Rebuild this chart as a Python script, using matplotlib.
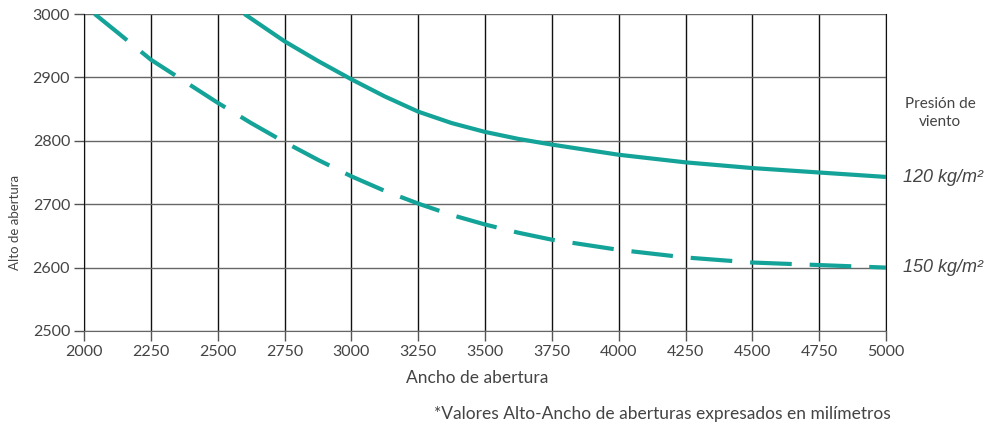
import matplotlib.pyplot as plt

# valores (mm)
ancho_120 = [2600, 2750, 2875, 3000, 3125, 3250, 3375, 3500, 3625, 3750, 4000, 4250, 4500,
             4750, 5000]
alto_120 = [3000, 2957, 2926, 2897, 2870, 2846, 2828, 2814, 2803, 2794, 2778, 2766, 2757,
            2750, 2743]

ancho_150 = [2040, 2125, 2250, 2375, 2500, 2625, 2750, 2875, 3000, 3125, 3250, 3375,
             3500, 3625, 3750, 4000, 4250, 4500, 4750, 5000]
alto_150 = [3000, 2971, 2928, 2894, 2860, 2828, 2798, 2770, 2744, 2721, 2701, 2683,
            2668, 2655, 2644, 2628, 2616, 2608, 2604, 2600]

xticks = [2000, 2250, 2500, 2750, 3000, 3250, 3500, 3750, 4000, 4250, 4500, 4750, 5000]
yticks = [2500, 2600, 2700, 2800, 2900, 3000]
etiquetas = ['120 kg/m²', '150 kg/m²']

verde = '#14a398'
gris = '#444444'

fig = plt.figure(figsize=(10.04, 4.28), dpi=100)
ax = fig.add_axes([84 / 1004, 1 - 331 / 428, 802 / 1004, 317 / 428])

ax.plot(ancho_120, alto_120, color=verde, lw=3, solid_capstyle='butt', solid_joinstyle='round')
ax.plot(ancho_150, alto_150, color=verde, lw=3, dashes=(10, 4.3), dash_capstyle='butt',
        dash_joinstyle='round')

ax.set_xlim(2000, 5000)
ax.set_ylim(2500, 3000)
ax.set_xticks(xticks)
ax.set_yticks(yticks)
ax.tick_params(axis='both', length=7, width=1, color='#555555', labelsize=11.5, labelcolor=gris,
               pad=3)
for lab in ax.get_xticklabels() + ax.get_yticklabels():
    lab.set_family('Lato')

ax.grid(axis='x', color='#111111', lw=1)
ax.grid(axis='y', color='#666666', lw=1)
ax.set_axisbelow(True)
ax.spines['top'].set_visible(False)
ax.spines['left'].set_color('#111111')
ax.spines['right'].set_color('#111111')
ax.spines['bottom'].set_color('#666666')

fig.text(477 / 1004, 1 - 378 / 428, 'Ancho de abertura', family='Lato', fontsize=12.5,
         color=gris, ha='center', va='center')
fig.text(15 / 1004, 1 - 222 / 428, 'Alto de abertura', rotation=90, family='Lato',
         fontsize=9.5, color=gris, ha='center', va='center')

fig.text(940 / 1004, 1 - 113 / 428, 'Presión de\nviento', family='Lato', fontsize=11,
         color=gris, ha='center', va='center', linespacing=1.3)
fig.text(943 / 1004, 1 - 178 / 428, etiquetas[0], family='Liberation Sans', style='italic',
         fontsize=13, color=gris, ha='center', va='center')
fig.text(943 / 1004, 1 - 268 / 428, etiquetas[1], family='Liberation Sans', style='italic',
         fontsize=13, color=gris, ha='center', va='center')

fig.text(662 / 1004, 1 - 414 / 428, '*Valores Alto-Ancho de aberturas expresados en milímetros',
         family='Lato', fontsize=12.5, color=gris, ha='center', va='center')

fig.savefig('out.png', dpi=100)
